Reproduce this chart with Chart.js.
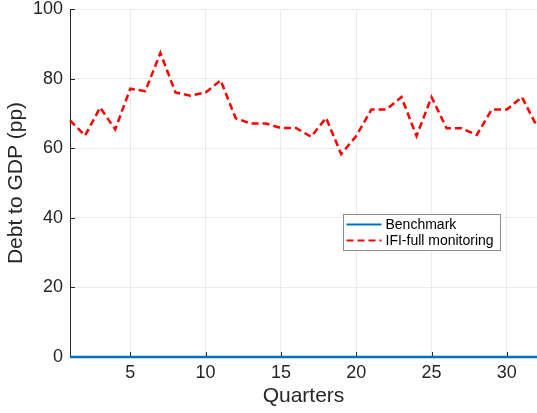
<!DOCTYPE html>
<html>
<head>
<meta charset="utf-8">
<script src="https://cdn.jsdelivr.net/npm/chart.js@4"></script>
<style>
  html, body { margin: 0; padding: 0; background: #fff; }
  #wrap { width: 537px; height: 413px; }
</style>
</head>
<body>
<div id="wrap"><canvas id="debtChart"></canvas></div>
<script>
// Trimestres 1..32
const quarters = Array.from({ length: 32 }, (_, i) => i + 1);
// Deuda sobre PIB (pp)
const benchmark = Array(32).fill(0);
const ifiFullMonitoring = [68, 63.6, 71.7, 65.4, 77.1, 76.4, 87.4, 76, 75.1, 76,
  79.5, 68.6, 67.1, 67.1, 65.8, 65.8, 63.3, 68.7, 58.3, 63.5,
  71.1, 71.1, 74.7, 63.5, 74.7, 65.7, 65.7, 63.8, 71.1, 71.1,
  74.7, 66.2];
const xTicks = [5, 10, 15, 20, 25, 30];
const yTicks = [0, 20, 40, 60, 80, 100];

const textColor = '#262626';
const fontFamily = '"Liberation Sans", Arial, sans-serif';

// Leyenda dentro del área del gráfico y marcas hacia dentro
const insideLegend = {
  id: 'insideLegend',
  beforeDatasetsDraw(chart) {
    const ctx = chart.ctx;
    const { left, bottom } = chart.chartArea;
    const x = chart.scales.x, y = chart.scales.y;
    ctx.save();
    ctx.strokeStyle = textColor;
    ctx.lineWidth = 1;
    ctx.beginPath();
    xTicks.forEach(t => {
      const px = Math.round(x.getPixelForValue(t)) + 0.5;
      ctx.moveTo(px, bottom); ctx.lineTo(px, bottom - 5);
    });
    yTicks.forEach(t => {
      const py = Math.round(y.getPixelForValue(t)) + 0.5;
      ctx.moveTo(left, py); ctx.lineTo(left + 5, py);
    });
    ctx.stroke();
    ctx.restore();
  },
  afterDatasetsDraw(chart) {
    const ctx = chart.ctx;
    ctx.save();
    const bx = 343.5, by = 214.5, bw = 157, bh = 36;
    ctx.fillStyle = '#fff';
    ctx.fillRect(bx, by, bw, bh);
    ctx.strokeStyle = '#8c8c8c';
    ctx.lineWidth = 1;
    ctx.strokeRect(bx, by, bw, bh);
    ctx.font = '14px ' + fontFamily;
    ctx.textBaseline = 'middle';
    chart.data.datasets.forEach((ds, i) => {
      const ly = by + 10 + i * 16;
      ctx.strokeStyle = ds.borderColor;
      ctx.lineWidth = 2;
      ctx.setLineDash(ds.borderDash || []);
      ctx.beginPath();
      ctx.moveTo(bx + 3, ly); ctx.lineTo(bx + 38, ly);
      ctx.stroke();
      ctx.setLineDash([]);
      ctx.fillStyle = '#000';
      ctx.fillText(ds.label, bx + 42, ly + 1);
    });
    ctx.restore();
  }
};

new Chart(document.getElementById('debtChart'), {
  type: 'line',
  data: {
    labels: quarters,
    datasets: [{
      label: 'Benchmark',
      data: benchmark,
      borderColor: '#0072bd',
      borderWidth: 2.5,
      pointRadius: 0,
      clip: false,
      tension: 0
    }, {
      label: 'IFI-full monitoring',
      data: ifiFullMonitoring,
      borderColor: '#ff0000',
      borderWidth: 2.5,
      borderDash: [7, 4],
      pointRadius: 0,
      clip: false,
      tension: 0
    }]
  },
  options: {
    responsive: true,
    maintainAspectRatio: false,
    animation: false,
    layout: { padding: { top: 9, right: 0, left: 0, bottom: 0 } },
    plugins: { legend: { display: false }, tooltip: { enabled: false } },
    scales: {
      x: {
        type: 'linear',
        min: 1,
        max: 32,
        afterBuildTicks: s => { s.ticks = xTicks.map(v => ({ value: v })); },
        afterFit: s => { s.height = 56; s.paddingLeft = 0; s.paddingRight = 0; },
        grid: { color: '#ebebeb', tickLength: 0 },
        border: { display: false },
        ticks: { color: textColor, font: { family: fontFamily, size: 18 }, padding: 5, maxRotation: 0 },
        title: { display: true, text: 'Quarters', color: textColor, font: { family: fontFamily, size: 21 }, padding: { top: 3 } }
      },
      y: {
        min: 0,
        max: 100,
        afterBuildTicks: s => { s.ticks = yTicks.map(v => ({ value: v })); },
        afterFit: s => { s.width = 70; s.paddingTop = 0; s.paddingBottom = 0; },
        grid: { color: '#ebebeb', tickLength: 0 },
        border: { color: textColor, width: 1 },
        ticks: { color: textColor, font: { family: fontFamily, size: 18 }, padding: 7 },
        title: { display: true, text: 'Debt to GDP (pp)', color: textColor, font: { family: fontFamily, size: 21 }, padding: { bottom: 0 } }
      }
    }
  },
  plugins: [insideLegend]
});
</script>
</body>
</html>
